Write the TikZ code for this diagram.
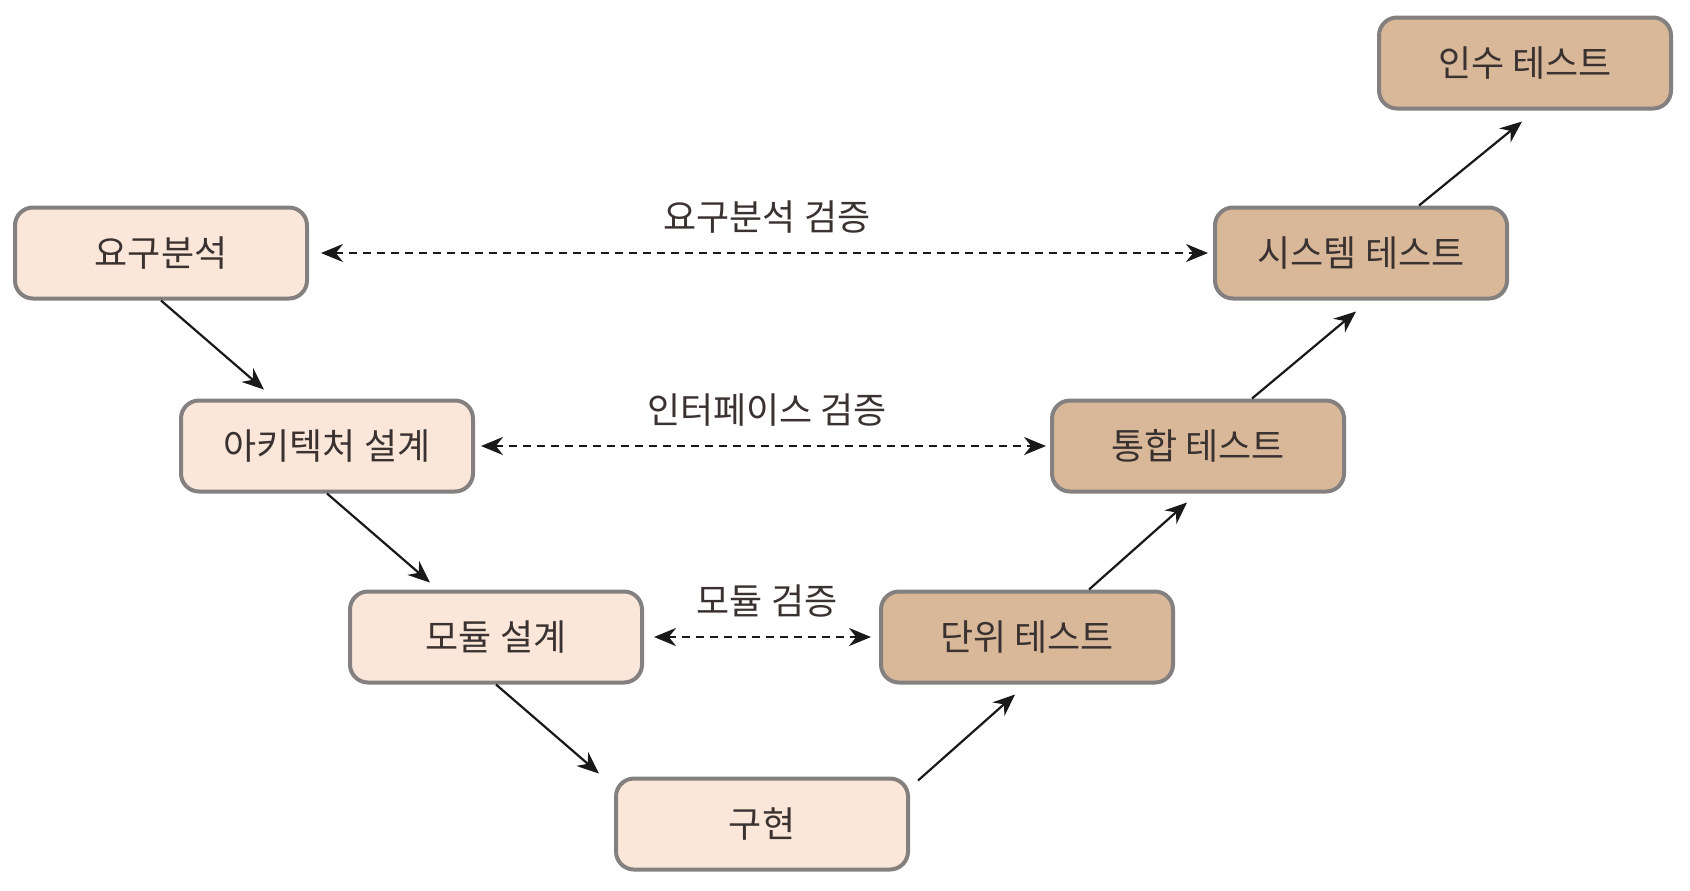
\documentclass[tikz,border=0pt]{standalone}
\usepackage{fontspec}
\setmainfont{Noto Sans CJK KR}
\usetikzlibrary{arrows.meta,calc}
\definecolor{lightbox}{HTML}{FBE7D9}
\definecolor{darkbox}{HTML}{D9B899}
\definecolor{boxline}{HTML}{858080}
\definecolor{txt}{HTML}{3A3230}
\tikzset{
  box/.style={draw=boxline,line width=2pt,rounded corners=9pt,minimum width=146pt,minimum height=45.5pt,inner sep=0pt,text=txt,font=\fontsize{18}{21}\selectfont},
  lbox/.style={box,fill=lightbox},
  rbox/.style={box,fill=darkbox},
  arr/.style={line width=1.1pt,draw=black!90,-{Stealth[length=11pt,width=9pt]}},
  darr/.style={line width=1.3pt,draw=black!90,dash pattern=on 4pt off 3pt,{Stealth[length=11pt,width=9pt]}-{Stealth[length=11pt,width=9pt]}},
  lbl/.style={text=txt,font=\fontsize{18}{21}\selectfont,inner sep=0pt}
}
\begin{document}
\begin{tikzpicture}[x=0.5pt,y=-0.5pt]
\useasboundingbox (0,0) rectangle (1690,890);
\fill[white] (0,0) rectangle (1690,890);
\node[lbox] (req)  at (161,253) {요구분석};
\node[lbox] (arch) at (327,446) {아키텍처 설계};
\node[lbox] (mod)  at (496,637) {모듈 설계};
\node[lbox] (impl) at (762,824) {구현};
\node[rbox] (unit) at (1027,637) {단위 테스트};
\node[rbox] (int)  at (1198,446) {통합 테스트};
\node[rbox] (sys)  at (1361,253) {시스템 테스트};
\node[rbox] (acc)  at (1525,63) {인수 테스트};
% left descent
\draw[arr] (req.south) -- ($(req.south)+(103,89)$);
\draw[arr] (arch.south) -- ($(arch.south)+(103,89)$);
\draw[arr] (mod.south) -- ($(mod.south)+(103,89)$);
% right ascent
\draw[arr] ($(impl.north east)+(8,4)$) -- ($(unit.south)+(-12,10)$);
\draw[arr] ($(unit.north)+(62,0)$) -- ($(int.south)+(-11,9)$);
\draw[arr] ($(int.north)+(54,0)$) -- ($(sys.south)+(-5,11)$);
\draw[arr] ($(sys.north)+(58,0)$) -- ($(acc.south)+(-3,11)$);
% verification
\draw[darr] ($(req.east)+(12,0)$) -- ($(sys.west)+(-5,0)$);
\draw[darr] ($(arch.east)+(6,0)$) -- ($(int.west)+(-4,0)$);
\draw[darr] ($(mod.east)+(10,0)$) -- ($(unit.west)+(-8,0)$);
\node[lbl] (l1) at (767,217) {요구분석 검증};
\node[lbl] (l2) at (767,410) {인터페이스 검증};
\node[lbl] (l3) at (767,601) {모듈 검증};
\end{tikzpicture}
\end{document}
